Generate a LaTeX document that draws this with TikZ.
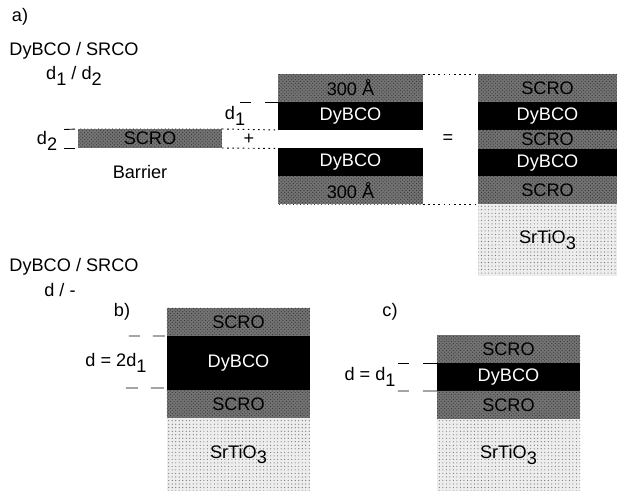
\documentclass[tikz,border=0pt]{standalone}
\usepackage{fontspec}
\setmainfont{Liberation Sans}
\usetikzlibrary{patterns}
\newcommand{\lowdig}[1]{\raisebox{-0.32em}{#1}}

\begin{document}
\begin{tikzpicture}[
    layer/.style={rectangle, inner sep=0pt, outer sep=0pt, minimum width=4.3cm, align=center, font=\fontsize{15.5}{18}\selectfont},
    scrobox/.style={layer, fill=black!55, postaction={pattern=crosshatch dots, pattern color=black!80}, text=black, minimum height=0.84cm},
    dybox/.style={layer, fill=black, text=white, minimum height=0.84cm},
    subbox/.style={layer, fill=black!7, postaction={pattern=dots, pattern color=black!55}, text=black, minimum height=2.16cm},
    label/.style={inner sep=0pt, align=center, font=\fontsize{15.5}{18}\selectfont},
    dotline/.style={line width=0.8pt, dash pattern=on 1.4pt off 3pt},
    tickline/.style={line width=0.75pt}
]
\useasboundingbox (0,0) rectangle (18.51,14.73);

% Left labels of a)
\node[label] (parta) at (0.6, 14.22) {a)};
\node[label] (stacka) at (2.22, 13.2) {DyBCO / SRCO};
\node[label] (thicka) at (2.22, 12.45) {d\lowdig{1} / d\lowdig{2}};

% Barrier
\node[scrobox, minimum width=4.32cm, minimum height=0.57cm] (barrier) at (4.5, 10.575) {SCRO};
\node[label] (barrierlabel) at (4.2, 9.57) {Barrier};
\node[label] (dtwo) at (1.41, 10.5) {d\lowdig{2}};
\node[label] (done) at (7.05, 11.25) {d\lowdig{1}};
\node[label] (plus) at (7.47, 10.56) {+};
\node[label] (equal) at (13.44, 10.56) {=};

% Middle stack
\node[scrobox, minimum width=4.35cm] (midtop) at (10.515, 12.09) {300 Å};
\node[dybox, minimum width=4.35cm] (middya) at (10.515, 11.25) {DyBCO};
\node[dybox, minimum width=4.35cm] (middyb) at (10.515, 9.855) {DyBCO};
\node[scrobox, minimum width=4.35cm] (midbot) at (10.515, 9.015) {300 Å};

% Right stack
\node[scrobox, minimum width=4.17cm] (sumtop) at (16.425, 12.09) {SCRO};
\node[dybox, minimum width=4.17cm] (sumdya) at (16.425, 11.25) {DyBCO};
\node[scrobox, minimum width=4.17cm, minimum height=0.57cm] (summid) at (16.425, 10.545) {SCRO};
\node[dybox, minimum width=4.17cm] (sumdyb) at (16.425, 9.84) {DyBCO};
\node[scrobox, minimum width=4.17cm] (sumbot) at (16.425, 9.015) {SCRO};
\node[subbox, minimum width=4.17cm] (sumsub) at (16.425, 7.53) {SrTiO\lowdig{3}};

% Left labels of b)
\node[label] (stackb) at (2.22, 6.72) {DyBCO / SRCO};
\node[label] (thickb) at (1.8, 6.03) {d / -};
\node[label] (partb) at (3.66, 5.37) {b)};

% Stack b)
\node[scrobox] (btop) at (7.155, 5.07) {SCRO};
\node[dybox, minimum height=1.65cm] (bdy) at (7.155, 3.825) {DyBCO};
\node[scrobox] (bbot) at (7.155, 2.595) {SCRO};
\node[subbox, minimum height=2.19cm] (bsub) at (7.155, 1.095) {SrTiO\lowdig{3}};
\node[label] (dblabel) at (3.48, 3.84) {d = 2d\lowdig{1}};

% Stack c)
\node[label] (partc) at (11.7, 5.37) {c)};
\node[scrobox] (ctop) at (15.255, 4.245) {SCRO};
\node[dybox] (cdy) at (15.255, 3.42) {DyBCO};
\node[scrobox] (cbot) at (15.255, 2.58) {SCRO};
\node[subbox] (csub) at (15.255, 1.08) {SrTiO\lowdig{3}};
\node[label] (dclabel) at (11.1, 3.42) {d = d\lowdig{1}};

% Free ends of the thickness marks
\coordinate (dtwoa) at (1.92, 10.845);
\coordinate (dtwob) at (1.92, 10.29);
\coordinate (donea) at (7.2, 11.67);
\coordinate (dbta) at (3.81, 4.65);
\coordinate (dbtb) at (3.75, 3.09);
\coordinate (dcta) at (11.91, 3.84);
\coordinate (dctb) at (11.91, 3.0);

% Dotted joins
\draw[dotline] (barrier.north east) -- (middya.south west);
\draw[dotline] (barrier.south east) -- (middyb.north west);
\draw[dotline] (midtop.north east) -- (sumtop.north west);
\draw[dotline] (midbot.south east) -- (sumbot.south west);

% Thickness marks
\draw[tickline, shorten <=0.09cm] (barrier.north west) -- (dtwoa);
\draw[tickline, shorten <=0.09cm] (barrier.south west) -- (dtwob);
\draw[tickline, dash pattern=on 0.39cm off 0.42cm on 0.33cm] (middya.north west) -- (donea);
\draw[tickline, dash pattern=on 0.36cm off 0.39cm on 0.33cm, shorten <=0.06cm] (bdy.north west) -- (dbta);
\draw[tickline, dash pattern=on 0.39cm off 0.39cm on 0.36cm, shorten <=0.09cm] (bdy.south west) ++(0,0.09) -- (dbtb);
\draw[tickline, dash pattern=on 0.42cm off 0.42cm on 0.33cm] (cdy.north west) -- (dcta);
\draw[tickline, dash pattern=on 0.42cm off 0.42cm on 0.33cm] (cdy.south west) -- (dctb);

\end{tikzpicture}
\end{document}
